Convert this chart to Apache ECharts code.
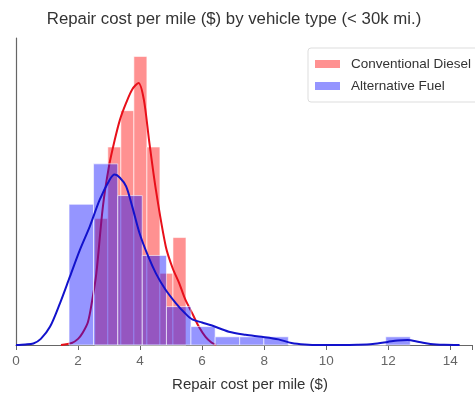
<!DOCTYPE html>
<html>
<head>
<meta charset="utf-8">
<script src="https://cdn.jsdelivr.net/npm/echarts@6/dist/echarts.min.js"></script>
<style>html,body{margin:0;padding:0;background:#fff}#c{width:475px;height:398px}</style>
</head>
<body>
<div id="c"></div>
<script>
// Histogram bins: [left edge, right edge] and density heights
const dieselEdges = [2.54, 2.96, 3.38, 3.80, 4.22, 4.64, 5.06, 5.48];
const dieselDensity = [0.247, 0.387, 0.458, 0.564, 0.387, 0.140, 0.210];
const altEdges = [1.71, 2.50, 3.28, 4.07, 4.85, 5.64, 6.42, 7.21, 7.99, 8.78, 9.56, 10.35, 11.13, 11.92, 12.71];
const altDensity = [0.275, 0.354, 0.292, 0.175, 0.075, 0.036, 0.016, 0.016, 0.016, 0, 0, 0, 0, 0.016];
// KDE curves
const dieselKdeX = [1.45, 1.8, 2.0, 2.15, 2.32, 2.45, 2.59, 2.80, 3.0, 3.18, 3.35, 3.55, 3.75, 3.95, 4.12, 4.29, 4.51, 4.83, 5.05, 5.26, 5.45, 5.68, 5.9, 6.11, 6.3, 6.45];
const dieselKdeY = [0, 0.004, 0.012, 0.024, 0.045, 0.085, 0.14, 0.27, 0.35, 0.40, 0.44, 0.473, 0.50, 0.512, 0.48, 0.40, 0.303, 0.192, 0.15, 0.121, 0.09, 0.062, 0.035, 0.016, 0.005, 0];
const altKdeX = [0, 0.3, 0.56, 0.8, 1.1, 1.42, 1.74, 2.06, 2.38, 2.70, 3.02, 3.18, 3.35, 3.55, 3.75, 3.98, 4.25, 4.51, 4.8, 5.15, 5.45, 5.68, 6.0, 6.32, 6.86, 7.4, 7.92, 8.46, 8.88, 9.31, 9.8, 10.5, 11.0, 11.5, 11.98, 12.3, 12.62, 13.0, 13.36, 13.8, 14.3];
const altKdeY = [0, 0.001, 0.003, 0.012, 0.036, 0.082, 0.134, 0.186, 0.232, 0.284, 0.323, 0.333, 0.327, 0.310, 0.27, 0.219, 0.175, 0.140, 0.11, 0.082, 0.062, 0.05, 0.044, 0.038, 0.026, 0.02, 0.016, 0.011, 0.004, 0.001, 0, 0, 0.0005, 0.002, 0.006, 0.009, 0.01, 0.006, 0.002, 0.0003, 0];
const xTicks = [0, 2, 4, 6, 8, 10, 12, 14];

function binData(edges, dens) {
  return dens.map((d, i) => [edges[i], edges[i + 1], d]);
}
function pairs(xs, ys) { return xs.map((x, i) => [x, ys[i]]); }
function histSeries(name, edges, dens, color, z) {
  return {
    name: name, type: 'custom', z: z,
    itemStyle: { color: color },
    encode: { x: [0, 1], y: 2 },
    data: binData(edges, dens),
    renderItem: function (params, api) {
      const p0 = api.coord([api.value(0), 0]);
      const p1 = api.coord([api.value(1), api.value(2)]);
      return {
        type: 'rect',
        shape: { x: p0[0], y: p1[1], width: p1[0] - p0[0], height: p0[1] - p1[1] },
        style: { fill: color, stroke: 'rgba(255,255,255,0.6)', lineWidth: 1 }
      };
    }
  };
}

const FONT = 'Liberation Sans, Arial, sans-serif';
const chart = echarts.init(document.getElementById('c'));
chart.setOption({
  animation: false,
  backgroundColor: '#fff',
  title: {
    text: 'Repair cost per mile ($) by vehicle type (< 30k mi.)',
    left: 229, top: 6, textAlign: 'center',
    textStyle: { fontFamily: FONT, fontSize: 16.8, fontWeight: 'normal', color: '#333' }
  },
  legend: {
    data: ['Conventional Diesel', 'Alternative Fuel'],
    orient: 'vertical', left: 308, top: 48,
    icon: 'rect', itemWidth: 25, itemHeight: 8, itemGap: 8,
    padding: [9, 12, 9, 7],
    borderColor: '#ddd', borderWidth: 1, borderRadius: 3,
    backgroundColor: '#fff',
    textStyle: { fontFamily: FONT, fontSize: 13.5, color: '#333', padding: [0, 0, 0, 6] }
  },
  grid: { left: 16, right: 0, top: 38, bottom: 53, containLabel: false },
  xAxis: {
    type: 'value', min: 0, max: 14.7, interval: 2,
    name: 'Repair cost per mile ($)', nameLocation: 'middle', nameGap: 32,
    nameTextStyle: { fontFamily: FONT, fontSize: 15, color: '#333', padding: [0, 0, 0, 12] },
    axisLine: { lineStyle: { color: '#666', width: 1.2 } },
    axisTick: { length: 5, lineStyle: { color: '#666' } },
    axisLabel: { margin: 9, fontFamily: FONT, fontSize: 13.5, color: '#666',
      formatter: v => xTicks.includes(v) ? String(v) : '' },
    splitLine: { show: false }
  },
  yAxis: {
    type: 'value', min: 0, max: 0.6,
    axisLine: { show: true, lineStyle: { color: '#666', width: 1.2 } },
    axisTick: { show: false }, axisLabel: { show: false }, splitLine: { show: false }
  },
  series: [
    histSeries('Conventional Diesel', dieselEdges, dieselDensity, 'rgba(255,0,0,0.43)', 1),
    { name: 'diesel kde', type: 'line', z: 2, smooth: 0.3, showSymbol: false, data: pairs(dieselKdeX, dieselKdeY),
      lineStyle: { color: '#e8101a', width: 2 }, itemStyle: { color: '#e8101a' } },
    histSeries('Alternative Fuel', altEdges, altDensity, 'rgba(10,10,255,0.43)', 3),
    { name: 'alt kde', type: 'line', z: 4, smooth: 0.3, showSymbol: false, data: pairs(altKdeX, altKdeY),
      lineStyle: { color: '#1212cc', width: 2 }, itemStyle: { color: '#1212cc' } }
  ]
});
</script>
</body>
</html>
